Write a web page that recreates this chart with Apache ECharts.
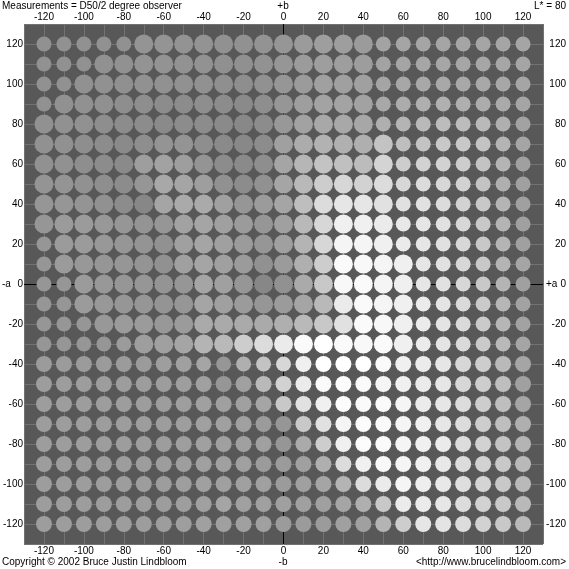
<!DOCTYPE html>
<html>
<head>
<meta charset="utf-8">
<script src="https://cdn.jsdelivr.net/npm/echarts@6/dist/echarts.min.js"></script>
<style>
html, body { margin: 0; padding: 0; background: #fff; }
#chart { width: 569px; height: 569px; }
</style>
</head>
<body>
<div id="chart"></div>
<script>
// a* across, b* down the rows (top row is b = 120)
var aValues = [-120, -110, -100, -90, -80, -70, -60, -50, -40, -30, -20, -10, 0, 10, 20, 30, 40, 50, 60, 70, 80, 90, 100, 110, 120];
var bValues = [120, 110, 100, 90, 80, 70, 60, 50, 40, 30, 20, 10, 0, -10, -20, -30, -40, -50, -60, -70, -80, -90, -100, -110, -120];
var tickLabels = [-120, -100, -80, -60, -40, -20, 0, 20, 40, 60, 80, 100, 120];

// circle diameters, one row per b value
var sizeRows = [
    [15,15,15,15,15,19,19,19,19,19,19,19,19,19,19,19,19,15,15,15,15,15,15,15,15],
    [15,15,15,19,19,19,19,19,19,19,19,19,19,19,19,19,19,15,15,15,15,15,15,15,15],
    [15,15,19,19,19,19,19,19,19,19,19,19,19,19,19,19,19,15,15,15,15,15,15,15,15],
    [15,19,19,19,19,19,19,19,19,19,19,19,19,19,19,19,19,15,15,15,15,15,15,15,15],
    [19,19,19,19,19,19,19,19,19,19,19,19,19,19,19,19,19,15,15,15,15,15,15,15,15],
    [19,19,19,19,19,19,19,19,19,19,19,19,19,19,19,19,19,19,15,15,15,15,15,15,15],
    [19,19,19,19,19,19,19,19,19,19,19,19,19,19,19,19,19,19,15,15,15,15,15,15,15],
    [19,19,19,19,19,19,19,19,19,19,19,19,19,19,19,19,19,19,15,15,15,15,15,15,15],
    [19,19,19,19,19,19,19,19,19,19,19,19,19,19,19,19,19,19,15,15,15,15,15,15,15],
    [19,19,19,19,19,19,19,19,19,19,19,19,19,19,19,19,19,19,15,15,15,15,15,15,15],
    [15,19,19,19,19,19,19,19,19,19,19,19,19,19,19,19,19,19,15,15,15,15,15,15,15],
    [15,19,19,19,19,19,19,19,19,19,19,19,19,19,19,19,19,19,19,15,15,15,15,15,15],
    [15,15,19,19,19,19,19,19,19,19,19,19,19,19,19,19,19,19,19,15,15,15,15,15,15],
    [15,15,19,19,19,19,19,19,19,19,19,19,19,19,19,19,19,19,19,15,15,15,15,15,15],
    [15,15,15,19,19,19,19,19,19,19,19,19,19,19,19,19,19,19,19,15,15,15,15,15,15],
    [15,15,15,15,15,19,19,19,19,19,19,19,19,19,19,19,19,19,19,15,15,15,15,15,15],
    [16,16,16,16,16,16,16,16,15,15,15,15,15,16,16,16,16,16,16,16,16,16,16,16,16],
    [16,16,16,16,16,16,16,16,16,16,16,16,16,16,16,16,16,16,16,16,16,16,16,16,16],
    [16,16,16,16,16,16,16,16,16,16,16,16,16,16,16,16,16,16,16,16,16,16,16,16,16],
    [16,16,16,16,16,16,16,16,16,16,16,16,16,16,16,16,16,16,16,16,16,16,16,16,16],
    [16,16,16,16,16,16,16,16,16,16,16,16,16,16,16,16,16,16,16,16,16,16,16,16,16],
    [16,16,16,16,16,16,16,16,16,16,16,16,16,16,16,16,16,16,16,16,16,16,16,16,16],
    [16,16,16,16,16,16,16,16,16,16,16,16,16,16,16,16,16,16,16,16,16,16,16,16,16],
    [16,16,16,16,16,16,16,16,16,16,16,16,16,16,16,16,16,16,16,16,16,16,16,16,16],
    [16,16,16,16,16,16,16,16,16,16,16,16,16,16,16,16,16,16,16,16,16,16,16,16,16]
];

// gray level of each circle (0-255)
var grayRows = [
    [145,145,145,145,145,148,148,147,147,145,145,147,150,155,158,158,155,163,165,165,165,165,165,165,165],
    [145,145,145,145,145,147,147,146,146,144,144,146,150,155,158,158,157,163,165,166,166,166,166,166,165],
    [145,145,145,145,144,145,145,145,145,143,142,145,150,155,160,160,160,165,167,168,168,168,168,167,165],
    [145,145,145,144,142,142,140,140,142,140,138,142,150,158,163,163,162,168,172,175,176,175,172,170,165],
    [145,145,145,142,140,140,138,140,140,138,136,140,152,162,168,168,167,175,180,185,188,188,185,175,162],
    [145,145,142,140,138,142,148,148,142,138,136,140,160,172,178,176,175,195,190,195,200,200,195,180,165],
    [145,145,142,140,138,158,162,158,148,140,138,142,165,182,195,192,188,212,205,210,210,205,195,180,160],
    [148,148,145,142,140,150,168,165,158,145,140,145,165,185,205,215,210,220,215,220,215,210,195,175,160],
    [150,150,148,145,140,135,165,170,170,160,150,155,165,190,220,230,230,225,225,225,220,210,200,180,160],
    [150,155,155,152,150,148,150,162,165,160,155,150,160,185,215,240,240,235,232,230,225,215,200,180,160],
    [150,155,155,152,150,148,145,160,165,160,155,150,160,180,215,245,245,240,235,230,225,215,200,180,160],
    [150,155,152,150,150,148,145,160,165,160,155,145,155,175,205,250,248,245,240,230,225,215,200,180,165],
    [150,150,155,152,150,150,148,150,165,160,150,135,145,170,200,248,250,245,240,230,225,215,200,180,160],
    [150,150,155,152,150,150,148,150,165,160,155,150,155,165,185,235,250,245,240,235,228,218,202,182,162],
    [150,150,150,152,155,155,152,155,170,170,170,170,175,185,200,225,250,248,240,235,228,218,202,182,162],
    [150,150,150,150,155,158,160,165,180,185,205,220,235,250,255,250,248,250,240,235,228,218,202,185,165],
    [155,155,155,155,155,155,158,160,165,150,175,195,215,240,255,255,255,250,240,235,230,215,205,185,165],
    [157,157,157,157,157,157,157,158,160,150,160,185,210,235,250,252,250,245,240,235,230,215,205,190,160],
    [157,157,157,157,157,157,157,158,160,160,160,165,200,225,240,252,250,250,245,235,230,220,205,190,165],
    [157,157,157,157,157,157,157,158,160,160,160,155,150,200,225,245,252,250,245,240,230,220,205,190,175],
    [157,157,157,157,157,157,157,158,160,160,160,160,150,170,205,240,252,250,245,240,235,220,210,195,180],
    [157,157,157,157,157,157,157,158,160,160,160,155,155,160,175,220,240,248,245,240,232,220,210,200,185],
    [157,157,157,157,157,157,157,158,160,160,160,160,155,160,165,180,220,235,245,238,232,222,212,200,185],
    [157,157,157,157,157,157,157,158,160,165,160,160,160,160,160,165,175,200,235,235,230,220,210,200,185],
    [157,157,157,157,157,157,157,158,160,160,160,160,155,155,155,160,160,180,205,230,228,220,210,200,185]
];

var points = [];
for (var i = 0; i < bValues.length; i++) {
    for (var j = 0; j < aValues.length; j++) {
        points.push([aValues[j], bValues[i], sizeRows[i][j], grayRows[i][j]]);
    }
}

function tickFormatter(v) {
    return tickLabels.indexOf(v) >= 0 ? String(v) : '';
}

var labelFont = { color: '#000', fontSize: 10, fontFamily: 'Liberation Sans' };

function makeAxis(pos, gridLines, extra) {
    var ax = {
        type: 'value',
        position: pos,
        min: -130,
        max: 130,
        interval: 10,
        axisLine: { show: false },
        axisTick: { show: false },
        splitLine: { show: gridLines, lineStyle: { color: '#727272', width: 1 } },
        axisLabel: {
            formatter: tickFormatter,
            margin: 2,
            color: labelFont.color,
            fontSize: labelFont.fontSize,
            fontFamily: labelFont.fontFamily
        }
    };
    for (var k in extra) {
        ax.axisLabel[k] = extra[k];
    }
    return ax;
}

var chart = echarts.init(document.getElementById('chart'));
var option = {
    animation: false,
    backgroundColor: '#ffffff',
    grid: {
        left: 23, top: 24, width: 520, height: 520,
        show: true, backgroundColor: '#585858', borderWidth: 0
    },
    xAxis: [
        makeAxis('bottom', true, {}),
        makeAxis('top', false, {})
    ],
    yAxis: [
        makeAxis('left', true, { margin: 1 }),
        makeAxis('right', false, { align: 'right', margin: 23 })
    ],
    graphic: [
        { type: 'text', left: 2, top: 1, style: { text: 'Measurements = D50/2 degree observer', fill: '#000', font: '10px "Liberation Sans"' } },
        { type: 'text', right: 3, top: 1, style: { text: 'L* = 80', fill: '#000', font: '10px "Liberation Sans"' } },
        { type: 'text', x: 283, y: 1, style: { text: '+b', fill: '#000', align: 'center', font: '10px "Liberation Sans"' } },
        { type: 'text', x: 283, y: 557, style: { text: '-b', fill: '#000', align: 'center', font: '10px "Liberation Sans"' } },
        { type: 'text', x: 2, y: 284, style: { text: '-a', fill: '#000', verticalAlign: 'middle', font: '10px "Liberation Sans"' } },
        { type: 'text', x: 546, y: 284, style: { text: '+a', fill: '#000', verticalAlign: 'middle', font: '10px "Liberation Sans"' } },
        { type: 'text', left: 2, top: 557, style: { text: 'Copyright \u00a9 2002 Bruce Justin Lindbloom', fill: '#000', font: '10px "Liberation Sans"' } },
        { type: 'text', right: 3, top: 557, style: { text: '<http://www.brucelindbloom.com>', fill: '#000', font: '10px "Liberation Sans"' } }
    ],
    series: [
        {
            type: 'scatter',
            silent: true,
            z: 3,
            symbol: 'circle',
            symbolSize: function (val) { return val[2]; },
            itemStyle: {
                opacity: 1,
                color: function (p) {
                    var g = p.data[3];
                    return 'rgb(' + g + ',' + g + ',' + g + ')';
                }
            },
            data: points,
            markLine: {
                silent: true,
                z: 1,
                symbol: 'none',
                label: { show: false },
                lineStyle: { color: '#000', width: 1, type: 'solid' },
                data: [{ xAxis: 0 }, { yAxis: 0 }]
            }
        }
    ]
};
chart.setOption(option);
</script>
</body>
</html>
